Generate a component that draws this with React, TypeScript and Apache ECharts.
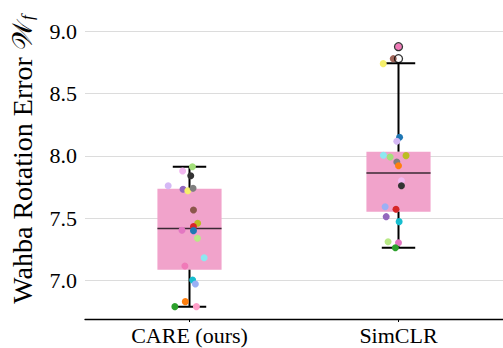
import React, { useEffect, useRef } from "react";
import * as echarts from "echarts";

const categories = ["CARE (ours)", "SimCLR"];

// box statistics per category: [lower whisker, Q1, median, Q3, upper whisker]
const boxStats = [
  [6.792, 7.088, 7.418, 7.736, 7.913],
  [7.264, 7.553, 7.863, 8.034, 8.742],
];

// outliers (fliers) of SimCLR
const simclrFliers = [8.779, 8.875];

// strip points
const careValues = [7.913, 7.879, 7.841, 7.761, 7.732, 7.721, 7.74, 7.567, 7.46, 7.433, 7.404, 7.401, 7.34, 7.184, 7.118, 7.006, 6.974, 6.832, 6.792, 6.792];
const careJitter = [0.014, -0.033, 0.006, -0.102, -0.031, -0.008, 0.017, 0.019, 0.039, 0.019, -0.036, 0.019, 0.038, 0.07, -0.022, 0.015, 0.028, -0.02, -0.07, 0.033];
const careColors = ["#a3e07a", "#f2b8f0", "#333333", "#d5b8f5", "#9467bd", "#f5ef6b", "#7f7f7f", "#8c564b", "#bcbd22", "#d62728", "#e377c2", "#1f77b4", "#b8e986", "#8de8f0", "#f07ab8", "#17becf", "#9ab0f5", "#ff7f0e", "#2ca02c", "#ff9ec8"];

const simclrValues = [8.875, 8.779, 8.739, 8.149, 8.117, 8.005, 7.991, 8.002, 7.951, 7.921, 7.801, 7.761, 7.593, 7.572, 7.513, 7.473, 7.312, 7.304, 7.264];
const simclrJitter = [0.0, -0.025, -0.073, 0.005, -0.008, -0.072, -0.04, 0.036, -0.008, 0.0, 0.014, 0.014, -0.064, -0.012, -0.059, 0.003, -0.05, 0.0, -0.015];
const simclrColors = ["#f07ab8", "#a0665a", "#f5ef6b", "#1f77b4", "#d5b8f5", "#8de8f0", "#a3e07a", "#bcbd22", "#7f7f7f", "#ff7f0e", "#f2b8f0", "#333333", "#9ab0f5", "#d62728", "#9467bd", "#17becf", "#b8e986", "#e377c2", "#2ca02c"];

const yTicks = [7.0, 7.5, 8.0, 8.5, 9.0];

export default function App() {
  const ref = useRef<HTMLDivElement>(null);
  useEffect(() => {
    if (!ref.current) return;
    const chart = echarts.init(ref.current, null, { renderer: "svg" });
    const serif = "'Liberation Serif', 'Times New Roman', serif";
    const boxData = categories.map((_, i) => [i, ...boxStats[i]]);
    const stripData = [
      ...careValues.map((v, i) => ({ value: [0 + careJitter[i], v], itemStyle: { color: careColors[i] } })),
      ...simclrValues.map((v, i) => ({ value: [1 + simclrJitter[i], v], itemStyle: { color: simclrColors[i] } })),
    ];
    const flierData = simclrFliers.map((v) => [1, v]);
    const option: any = {
      animation: false,
      backgroundColor: "#ffffff",
      textStyle: { fontFamily: serif },
      grid: { left: 79, top: 0, width: 426, height: 319, containLabel: false },
      xAxis: [
        {
          type: "category",
          data: categories,
          axisLine: { lineStyle: { color: "#000", width: 1.3 } },
          axisTick: { show: true, alignWithLabel: true, length: 3, lineStyle: { color: "#000", width: 1 } },
          axisLabel: { fontFamily: serif, fontSize: 22, color: "#000", margin: 5 },
          splitLine: { show: false },
        },
        { type: "value", min: -0.5, max: 1.5, show: false },
      ],
      yAxis: {
        type: "value",
        min: 6.693,
        max: 9.249,
        splitNumber: 5,
        axisLine: { show: false },
        axisTick: { show: false },
        axisLabel: {
          fontFamily: serif,
          fontSize: 22,
          color: "#000",
          margin: 8,
          showMinLabel: false,
          showMaxLabel: false,
          formatter: (v: number) => (yTicks.some((t) => Math.abs(t - v) < 1e-6) ? v.toFixed(1) : ""),
        },
        splitLine: { show: true, showMinLine: false, showMaxLine: false, lineStyle: { color: "#dcdcdc", width: 1 } },
        name: "Wahba Rotation Error {w|𝒲}{s|f}",
        nameLocation: "middle",
        nameGap: 49,
        nameTextStyle: {
          fontFamily: serif,
          fontSize: 28,
          color: "#000",
          rich: {
            w: { fontSize: 28, color: "#000" },
            s: { fontSize: 17, fontStyle: "italic", fontFamily: serif, color: "#000", verticalAlign: "bottom", padding: [10, 0, 0, 1] },
          },
        },
      },
      series: [
        {
          type: "custom",
          xAxisIndex: 1,
          z: 2,
          data: boxData,
          encode: { x: 0, y: [1, 2, 3, 4, 5] },
          renderItem: (params: any, api: any) => {
            const x = api.value(0);
            const mn = api.value(1), q1 = api.value(2), med = api.value(3), q3 = api.value(4), mx = api.value(5);
            const half = 0.1535;
            const capHalf = 0.08;
            const tl = api.coord([x - half, q3]);
            const br = api.coord([x + half, q1]);
            const c = api.coord([x, med]);
            const yMin = api.coord([x, mn])[1];
            const yMax = api.coord([x, mx])[1];
            const capL = api.coord([x - capHalf, mn])[0];
            const capR = api.coord([x + capHalf, mn])[0];
            const lineStyle = { stroke: "#000", lineWidth: 2 };
            return {
              type: "group",
              children: [
                { type: "rect", shape: { x: tl[0], y: tl[1], width: br[0] - tl[0], height: br[1] - tl[1] }, style: { fill: "#f1a3cb" } },
                { type: "line", shape: { x1: tl[0], y1: c[1], x2: br[0], y2: c[1] }, style: { stroke: "#3a2833", lineWidth: 1.5 } },
                { type: "line", shape: { x1: c[0], y1: tl[1], x2: c[0], y2: yMax }, style: lineStyle },
                { type: "line", shape: { x1: c[0], y1: br[1], x2: c[0], y2: yMin }, style: lineStyle },
                { type: "line", shape: { x1: capL, y1: yMax, x2: capR, y2: yMax }, style: lineStyle },
                { type: "line", shape: { x1: capL, y1: yMin, x2: capR, y2: yMin }, style: lineStyle },
              ],
            };
          },
        },
        {
          type: "scatter",
          xAxisIndex: 1,
          z: 3,
          symbol: "circle",
          symbolSize: 7,
          data: stripData,
          itemStyle: { opacity: 1 },
        },
        {
          type: "scatter",
          xAxisIndex: 1,
          z: 4,
          symbol: "circle",
          symbolSize: 8,
          data: flierData,
          itemStyle: { color: "rgba(0,0,0,0)", borderColor: "#000", borderWidth: 1.3 },
        },
      ],
    };
    chart.setOption(option);
    return () => chart.dispose();
  }, []);
  return <div ref={ref} style={{ width: 503, height: 348, position: "absolute", left: 0, top: 0 }} />;
}
